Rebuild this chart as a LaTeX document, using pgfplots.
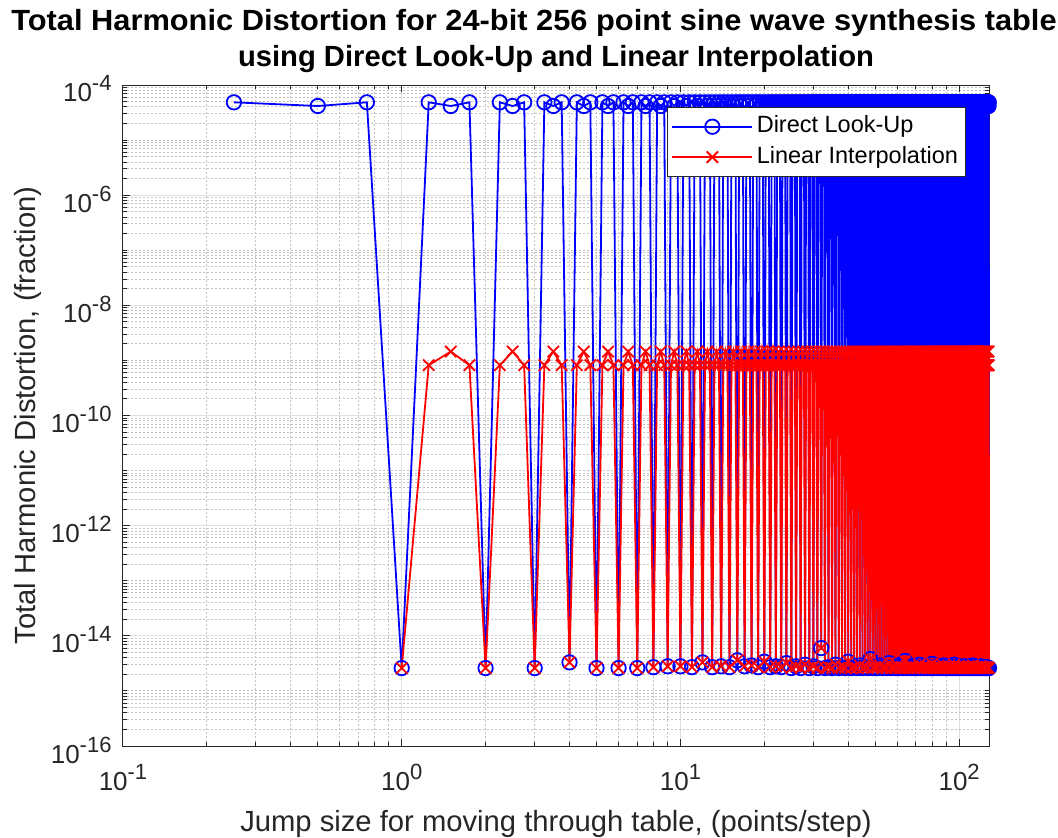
\documentclass[border=0pt]{standalone}
\usepackage{fontspec}
\setmainfont{Liberation Sans}
\usepackage{graphicx}
\usepackage{pgfplots}
\pgfplotsset{compat=1.18}
\usepackage{pgfplotstable}
\definecolor{axgray}{RGB}{38,38,38}
\definecolor{majgrid}{RGB}{223,223,223}
\definecolor{mingrid}{RGB}{195,195,195}
\newcommand{\sups}[1]{\raisebox{0.42em}{\fontsize{11}{13}\selectfont #1}}
\pgfplotstableread[row sep=\\]{
x d l\\
0.25 4.85e-5 nan\\ 0.5 4.16e-5 nan\\ 0.75 4.85e-5 nan\\
1 2.6e-15 2.6e-15\\ 1.25 4.85e-5 8.2e-10\\ 1.5 4.16e-5 1.45e-9\\ 1.75 4.85e-5 8.2e-10\\
2 2.6e-15 2.6e-15\\ 2.25 4.85e-5 8.2e-10\\ 2.5 4.16e-5 1.45e-9\\ 2.75 4.85e-5 8.2e-10\\
3 2.6e-15 2.6e-15\\ 3.25 4.85e-5 8.2e-10\\ 3.5 4.16e-5 1.45e-9\\ 3.75 4.85e-5 8.2e-10\\
4 3.3e-15 3.3e-15\\ 4.25 4.85e-5 8.2e-10\\ 4.5 4.16e-5 1.45e-9\\ 4.75 4.85e-5 8.2e-10\\
5 2.6e-15 2.6e-15\\ 5.25 4.85e-5 8.2e-10\\ 5.5 4.16e-5 1.45e-9\\ 5.75 4.85e-5 8.2e-10\\
6 2.6e-15 2.6e-15\\ 6.25 4.85e-5 8.2e-10\\ 6.5 4.16e-5 1.45e-9\\ 6.75 4.85e-5 8.2e-10\\
7 2.6e-15 2.6e-15\\ 7.25 4.85e-5 8.2e-10\\ 7.5 4.16e-5 1.45e-9\\ 7.75 4.85e-5 8.2e-10\\
8 2.7e-15 2.7e-15\\ 8.25 4.85e-5 8.2e-10\\ 8.5 4.16e-5 1.45e-9\\ 8.75 4.85e-5 8.2e-10\\
9 2.8e-15 2.8e-15\\ 9.25 4.85e-5 8.2e-10\\ 9.5 4.16e-5 1.45e-9\\ 9.75 4.85e-5 8.2e-10\\
10 2.8e-15 2.8e-15\\ 10.25 4.85e-5 8.2e-10\\ 10.5 4.16e-5 1.45e-9\\ 10.75 4.85e-5 8.2e-10\\
11 2.7e-15 2.7e-15\\ 11.25 4.85e-5 8.2e-10\\ 11.5 4.16e-5 1.45e-9\\ 11.75 4.85e-5 8.2e-10\\
12 3.3e-15 3.3e-15\\ 12.25 4.85e-5 8.2e-10\\ 12.5 4.16e-5 1.45e-9\\ 12.75 4.85e-5 8.2e-10\\
13 2.7e-15 2.7e-15\\ 13.25 4.85e-5 8.2e-10\\ 13.5 4.16e-5 1.45e-9\\ 13.75 4.85e-5 8.2e-10\\
14 2.8e-15 2.8e-15\\ 14.25 4.85e-5 8.2e-10\\ 14.5 4.16e-5 1.45e-9\\ 14.75 4.85e-5 8.2e-10\\
15 2.7e-15 2.7e-15\\ 15.25 4.85e-5 8.2e-10\\ 15.5 4.16e-5 1.45e-9\\ 15.75 4.85e-5 8.2e-10\\
16 3.6e-15 3.6e-15\\ 16.25 4.85e-5 8.2e-10\\ 16.5 4.16e-5 1.45e-9\\ 16.75 4.85e-5 8.2e-10\\
17 2.8e-15 2.8e-15\\ 17.25 4.85e-5 8.2e-10\\ 17.5 4.16e-5 1.45e-9\\ 17.75 4.85e-5 8.2e-10\\
18 2.9e-15 2.9e-15\\ 18.25 4.85e-5 8.2e-10\\ 18.5 4.16e-5 1.45e-9\\ 18.75 4.85e-5 8.2e-10\\
19 2.7e-15 2.7e-15\\ 19.25 4.85e-5 8.2e-10\\ 19.5 4.16e-5 1.45e-9\\ 19.75 4.85e-5 8.2e-10\\
20 3.4e-15 3.4e-15\\ 20.25 4.85e-5 8.2e-10\\ 20.5 4.16e-5 1.45e-9\\ 20.75 4.85e-5 8.2e-10\\
21 2.7e-15 2.7e-15\\ 21.25 4.85e-5 8.2e-10\\ 21.5 4.16e-5 1.45e-9\\ 21.75 4.85e-5 8.2e-10\\
22 2.8e-15 2.8e-15\\ 22.25 4.85e-5 8.2e-10\\ 22.5 4.16e-5 1.45e-9\\ 22.75 4.85e-5 8.2e-10\\
23 2.7e-15 2.7e-15\\ 23.25 4.85e-5 8.2e-10\\ 23.5 4.16e-5 1.45e-9\\ 23.75 4.85e-5 8.2e-10\\
24 3.2e-15 3.2e-15\\ 24.25 4.85e-5 8.2e-10\\ 24.5 4.16e-5 1.45e-9\\ 24.75 4.85e-5 8.2e-10\\
25 2.6e-15 2.6e-15\\ 25.25 4.85e-5 8.2e-10\\ 25.5 4.16e-5 1.45e-9\\ 25.75 4.85e-5 8.2e-10\\
26 2.8e-15 2.8e-15\\ 26.25 4.85e-5 8.2e-10\\ 26.5 4.16e-5 1.45e-9\\ 26.75 4.85e-5 8.2e-10\\
27 2.6e-15 2.6e-15\\ 27.25 4.85e-5 8.2e-10\\ 27.5 4.16e-5 1.45e-9\\ 27.75 4.85e-5 8.2e-10\\
28 3.0e-15 3.0e-15\\ 28.25 4.85e-5 8.2e-10\\ 28.5 4.16e-5 1.45e-9\\ 28.75 4.85e-5 8.2e-10\\
29 2.6e-15 2.6e-15\\ 29.25 4.85e-5 8.2e-10\\ 29.5 4.16e-5 1.45e-9\\ 29.75 4.85e-5 8.2e-10\\
30 2.8e-15 2.8e-15\\ 30.25 4.85e-5 8.2e-10\\ 30.5 4.16e-5 1.45e-9\\ 30.75 4.85e-5 8.2e-10\\
31 2.6e-15 2.6e-15\\ 31.25 4.85e-5 8.2e-10\\ 31.5 4.16e-5 1.45e-9\\ 31.75 4.85e-5 8.2e-10\\
32 6.0e-15 6.0e-15\\ 32.25 4.85e-5 8.2e-10\\ 32.5 4.16e-5 1.45e-9\\ 32.75 4.85e-5 8.2e-10\\
33 2.6e-15 2.6e-15\\ 33.25 4.85e-5 8.2e-10\\ 33.5 4.16e-5 1.45e-9\\ 33.75 4.85e-5 8.2e-10\\
34 2.7e-15 2.7e-15\\ 34.25 4.85e-5 8.2e-10\\ 34.5 4.16e-5 1.45e-9\\ 34.75 4.85e-5 8.2e-10\\
35 2.6e-15 2.6e-15\\ 35.25 4.85e-5 8.2e-10\\ 35.5 4.16e-5 1.45e-9\\ 35.75 4.85e-5 8.2e-10\\
36 3.0e-15 3.0e-15\\ 36.25 4.85e-5 8.2e-10\\ 36.5 4.16e-5 1.45e-9\\ 36.75 4.85e-5 8.2e-10\\
37 2.6e-15 2.6e-15\\ 37.25 4.85e-5 8.2e-10\\ 37.5 4.16e-5 1.45e-9\\ 37.75 4.85e-5 8.2e-10\\
38 2.7e-15 2.7e-15\\ 38.25 4.85e-5 8.2e-10\\ 38.5 4.16e-5 1.45e-9\\ 38.75 4.85e-5 8.2e-10\\
39 2.6e-15 2.6e-15\\ 39.25 4.85e-5 8.2e-10\\ 39.5 4.16e-5 1.45e-9\\ 39.75 4.85e-5 8.2e-10\\
40 3.4e-15 3.4e-15\\ 40.25 4.85e-5 8.2e-10\\ 40.5 4.16e-5 1.45e-9\\ 40.75 4.85e-5 8.2e-10\\
41 2.6e-15 2.6e-15\\ 41.25 4.85e-5 8.2e-10\\ 41.5 4.16e-5 1.45e-9\\ 41.75 4.85e-5 8.2e-10\\
42 2.7e-15 2.7e-15\\ 42.25 4.85e-5 8.2e-10\\ 42.5 4.16e-5 1.45e-9\\ 42.75 4.85e-5 8.2e-10\\
43 2.6e-15 2.6e-15\\ 43.25 4.85e-5 8.2e-10\\ 43.5 4.16e-5 1.45e-9\\ 43.75 4.85e-5 8.2e-10\\
44 2.9e-15 2.9e-15\\ 44.25 4.85e-5 8.2e-10\\ 44.5 4.16e-5 1.45e-9\\ 44.75 4.85e-5 8.2e-10\\
45 2.6e-15 2.6e-15\\ 45.25 4.85e-5 8.2e-10\\ 45.5 4.16e-5 1.45e-9\\ 45.75 4.85e-5 8.2e-10\\
46 2.7e-15 2.7e-15\\ 46.25 4.85e-5 8.2e-10\\ 46.5 4.16e-5 1.45e-9\\ 46.75 4.85e-5 8.2e-10\\
47 2.6e-15 2.6e-15\\ 47.25 4.85e-5 8.2e-10\\ 47.5 4.16e-5 1.45e-9\\ 47.75 4.85e-5 8.2e-10\\
48 3.8e-15 3.8e-15\\ 48.25 4.85e-5 8.2e-10\\ 48.5 4.16e-5 1.45e-9\\ 48.75 4.85e-5 8.2e-10\\
49 2.6e-15 2.6e-15\\ 49.25 4.85e-5 8.2e-10\\ 49.5 4.16e-5 1.45e-9\\ 49.75 4.85e-5 8.2e-10\\
50 2.7e-15 2.7e-15\\ 50.25 4.85e-5 8.2e-10\\ 50.5 4.16e-5 1.45e-9\\ 50.75 4.85e-5 8.2e-10\\
51 2.6e-15 2.6e-15\\ 51.25 4.85e-5 8.2e-10\\ 51.5 4.16e-5 1.45e-9\\ 51.75 4.85e-5 8.2e-10\\
52 2.9e-15 2.9e-15\\ 52.25 4.85e-5 8.2e-10\\ 52.5 4.16e-5 1.45e-9\\ 52.75 4.85e-5 8.2e-10\\
53 2.6e-15 2.6e-15\\ 53.25 4.85e-5 8.2e-10\\ 53.5 4.16e-5 1.45e-9\\ 53.75 4.85e-5 8.2e-10\\
54 2.7e-15 2.7e-15\\ 54.25 4.85e-5 8.2e-10\\ 54.5 4.16e-5 1.45e-9\\ 54.75 4.85e-5 8.2e-10\\
55 2.6e-15 2.6e-15\\ 55.25 4.85e-5 8.2e-10\\ 55.5 4.16e-5 1.45e-9\\ 55.75 4.85e-5 8.2e-10\\
56 3.2e-15 3.2e-15\\ 56.25 4.85e-5 8.2e-10\\ 56.5 4.16e-5 1.45e-9\\ 56.75 4.85e-5 8.2e-10\\
57 2.6e-15 2.6e-15\\ 57.25 4.85e-5 8.2e-10\\ 57.5 4.16e-5 1.45e-9\\ 57.75 4.85e-5 8.2e-10\\
58 2.7e-15 2.7e-15\\ 58.25 4.85e-5 8.2e-10\\ 58.5 4.16e-5 1.45e-9\\ 58.75 4.85e-5 8.2e-10\\
59 2.6e-15 2.6e-15\\ 59.25 4.85e-5 8.2e-10\\ 59.5 4.16e-5 1.45e-9\\ 59.75 4.85e-5 8.2e-10\\
60 2.9e-15 2.9e-15\\ 60.25 4.85e-5 8.2e-10\\ 60.5 4.16e-5 1.45e-9\\ 60.75 4.85e-5 8.2e-10\\
61 2.6e-15 2.6e-15\\ 61.25 4.85e-5 8.2e-10\\ 61.5 4.16e-5 1.45e-9\\ 61.75 4.85e-5 8.2e-10\\
62 2.7e-15 2.7e-15\\ 62.25 4.85e-5 8.2e-10\\ 62.5 4.16e-5 1.45e-9\\ 62.75 4.85e-5 8.2e-10\\
63 2.6e-15 2.6e-15\\ 63.25 4.85e-5 8.2e-10\\ 63.5 4.16e-5 1.45e-9\\ 63.75 4.85e-5 8.2e-10\\
64 3.5e-15 3.5e-15\\ 64.25 4.85e-5 8.2e-10\\ 64.5 4.16e-5 1.45e-9\\ 64.75 4.85e-5 8.2e-10\\
65 2.6e-15 2.6e-15\\ 65.25 4.85e-5 8.2e-10\\ 65.5 4.16e-5 1.45e-9\\ 65.75 4.85e-5 8.2e-10\\
66 2.7e-15 2.7e-15\\ 66.25 4.85e-5 8.2e-10\\ 66.5 4.16e-5 1.45e-9\\ 66.75 4.85e-5 8.2e-10\\
67 2.6e-15 2.6e-15\\ 67.25 4.85e-5 8.2e-10\\ 67.5 4.16e-5 1.45e-9\\ 67.75 4.85e-5 8.2e-10\\
68 2.8e-15 2.8e-15\\ 68.25 4.85e-5 8.2e-10\\ 68.5 4.16e-5 1.45e-9\\ 68.75 4.85e-5 8.2e-10\\
69 2.6e-15 2.6e-15\\ 69.25 4.85e-5 8.2e-10\\ 69.5 4.16e-5 1.45e-9\\ 69.75 4.85e-5 8.2e-10\\
70 2.7e-15 2.7e-15\\ 70.25 4.85e-5 8.2e-10\\ 70.5 4.16e-5 1.45e-9\\ 70.75 4.85e-5 8.2e-10\\
71 2.6e-15 2.6e-15\\ 71.25 4.85e-5 8.2e-10\\ 71.5 4.16e-5 1.45e-9\\ 71.75 4.85e-5 8.2e-10\\
72 3.0e-15 3.0e-15\\ 72.25 4.85e-5 8.2e-10\\ 72.5 4.16e-5 1.45e-9\\ 72.75 4.85e-5 8.2e-10\\
73 2.6e-15 2.6e-15\\ 73.25 4.85e-5 8.2e-10\\ 73.5 4.16e-5 1.45e-9\\ 73.75 4.85e-5 8.2e-10\\
74 2.7e-15 2.7e-15\\ 74.25 4.85e-5 8.2e-10\\ 74.5 4.16e-5 1.45e-9\\ 74.75 4.85e-5 8.2e-10\\
75 2.6e-15 2.6e-15\\ 75.25 4.85e-5 8.2e-10\\ 75.5 4.16e-5 1.45e-9\\ 75.75 4.85e-5 8.2e-10\\
76 2.8e-15 2.8e-15\\ 76.25 4.85e-5 8.2e-10\\ 76.5 4.16e-5 1.45e-9\\ 76.75 4.85e-5 8.2e-10\\
77 2.6e-15 2.6e-15\\ 77.25 4.85e-5 8.2e-10\\ 77.5 4.16e-5 1.45e-9\\ 77.75 4.85e-5 8.2e-10\\
78 2.7e-15 2.7e-15\\ 78.25 4.85e-5 8.2e-10\\ 78.5 4.16e-5 1.45e-9\\ 78.75 4.85e-5 8.2e-10\\
79 2.6e-15 2.6e-15\\ 79.25 4.85e-5 8.2e-10\\ 79.5 4.16e-5 1.45e-9\\ 79.75 4.85e-5 8.2e-10\\
80 3.1e-15 3.1e-15\\ 80.25 4.85e-5 8.2e-10\\ 80.5 4.16e-5 1.45e-9\\ 80.75 4.85e-5 8.2e-10\\
81 2.6e-15 2.6e-15\\ 81.25 4.85e-5 8.2e-10\\ 81.5 4.16e-5 1.45e-9\\ 81.75 4.85e-5 8.2e-10\\
82 2.7e-15 2.7e-15\\ 82.25 4.85e-5 8.2e-10\\ 82.5 4.16e-5 1.45e-9\\ 82.75 4.85e-5 8.2e-10\\
83 2.6e-15 2.6e-15\\ 83.25 4.85e-5 8.2e-10\\ 83.5 4.16e-5 1.45e-9\\ 83.75 4.85e-5 8.2e-10\\
84 2.8e-15 2.8e-15\\ 84.25 4.85e-5 8.2e-10\\ 84.5 4.16e-5 1.45e-9\\ 84.75 4.85e-5 8.2e-10\\
85 2.6e-15 2.6e-15\\ 85.25 4.85e-5 8.2e-10\\ 85.5 4.16e-5 1.45e-9\\ 85.75 4.85e-5 8.2e-10\\
86 2.7e-15 2.7e-15\\ 86.25 4.85e-5 8.2e-10\\ 86.5 4.16e-5 1.45e-9\\ 86.75 4.85e-5 8.2e-10\\
87 2.6e-15 2.6e-15\\ 87.25 4.85e-5 8.2e-10\\ 87.5 4.16e-5 1.45e-9\\ 87.75 4.85e-5 8.2e-10\\
88 2.9e-15 2.9e-15\\ 88.25 4.85e-5 8.2e-10\\ 88.5 4.16e-5 1.45e-9\\ 88.75 4.85e-5 8.2e-10\\
89 2.6e-15 2.6e-15\\ 89.25 4.85e-5 8.2e-10\\ 89.5 4.16e-5 1.45e-9\\ 89.75 4.85e-5 8.2e-10\\
90 2.7e-15 2.7e-15\\ 90.25 4.85e-5 8.2e-10\\ 90.5 4.16e-5 1.45e-9\\ 90.75 4.85e-5 8.2e-10\\
91 2.6e-15 2.6e-15\\ 91.25 4.85e-5 8.2e-10\\ 91.5 4.16e-5 1.45e-9\\ 91.75 4.85e-5 8.2e-10\\
92 2.8e-15 2.8e-15\\ 92.25 4.85e-5 8.2e-10\\ 92.5 4.16e-5 1.45e-9\\ 92.75 4.85e-5 8.2e-10\\
93 2.6e-15 2.6e-15\\ 93.25 4.85e-5 8.2e-10\\ 93.5 4.16e-5 1.45e-9\\ 93.75 4.85e-5 8.2e-10\\
94 2.7e-15 2.7e-15\\ 94.25 4.85e-5 8.2e-10\\ 94.5 4.16e-5 1.45e-9\\ 94.75 4.85e-5 8.2e-10\\
95 2.6e-15 2.6e-15\\ 95.25 4.85e-5 8.2e-10\\ 95.5 4.16e-5 1.45e-9\\ 95.75 4.85e-5 8.2e-10\\
96 3.0e-15 3.0e-15\\ 96.25 4.85e-5 8.2e-10\\ 96.5 4.16e-5 1.45e-9\\ 96.75 4.85e-5 8.2e-10\\
97 2.6e-15 2.6e-15\\ 97.25 4.85e-5 8.2e-10\\ 97.5 4.16e-5 1.45e-9\\ 97.75 4.85e-5 8.2e-10\\
98 2.7e-15 2.7e-15\\ 98.25 4.85e-5 8.2e-10\\ 98.5 4.16e-5 1.45e-9\\ 98.75 4.85e-5 8.2e-10\\
99 2.6e-15 2.6e-15\\ 99.25 4.85e-5 8.2e-10\\ 99.5 4.16e-5 1.45e-9\\ 99.75 4.85e-5 8.2e-10\\
100 2.8e-15 2.8e-15\\ 100.25 4.85e-5 8.2e-10\\ 100.5 4.16e-5 1.45e-9\\ 100.75 4.85e-5 8.2e-10\\
101 2.6e-15 2.6e-15\\ 101.25 4.85e-5 8.2e-10\\ 101.5 4.16e-5 1.45e-9\\ 101.75 4.85e-5 8.2e-10\\
102 2.7e-15 2.7e-15\\ 102.25 4.85e-5 8.2e-10\\ 102.5 4.16e-5 1.45e-9\\ 102.75 4.85e-5 8.2e-10\\
103 2.6e-15 2.6e-15\\ 103.25 4.85e-5 8.2e-10\\ 103.5 4.16e-5 1.45e-9\\ 103.75 4.85e-5 8.2e-10\\
104 2.8e-15 2.8e-15\\ 104.25 4.85e-5 8.2e-10\\ 104.5 4.16e-5 1.45e-9\\ 104.75 4.85e-5 8.2e-10\\
105 2.6e-15 2.6e-15\\ 105.25 4.85e-5 8.2e-10\\ 105.5 4.16e-5 1.45e-9\\ 105.75 4.85e-5 8.2e-10\\
106 2.7e-15 2.7e-15\\ 106.25 4.85e-5 8.2e-10\\ 106.5 4.16e-5 1.45e-9\\ 106.75 4.85e-5 8.2e-10\\
107 2.6e-15 2.6e-15\\ 107.25 4.85e-5 8.2e-10\\ 107.5 4.16e-5 1.45e-9\\ 107.75 4.85e-5 8.2e-10\\
108 2.8e-15 2.8e-15\\ 108.25 4.85e-5 8.2e-10\\ 108.5 4.16e-5 1.45e-9\\ 108.75 4.85e-5 8.2e-10\\
109 2.6e-15 2.6e-15\\ 109.25 4.85e-5 8.2e-10\\ 109.5 4.16e-5 1.45e-9\\ 109.75 4.85e-5 8.2e-10\\
110 2.7e-15 2.7e-15\\ 110.25 4.85e-5 8.2e-10\\ 110.5 4.16e-5 1.45e-9\\ 110.75 4.85e-5 8.2e-10\\
111 2.6e-15 2.6e-15\\ 111.25 4.85e-5 8.2e-10\\ 111.5 4.16e-5 1.45e-9\\ 111.75 4.85e-5 8.2e-10\\
112 2.9e-15 2.9e-15\\ 112.25 4.85e-5 8.2e-10\\ 112.5 4.16e-5 1.45e-9\\ 112.75 4.85e-5 8.2e-10\\
113 2.6e-15 2.6e-15\\ 113.25 4.85e-5 8.2e-10\\ 113.5 4.16e-5 1.45e-9\\ 113.75 4.85e-5 8.2e-10\\
114 2.7e-15 2.7e-15\\ 114.25 4.85e-5 8.2e-10\\ 114.5 4.16e-5 1.45e-9\\ 114.75 4.85e-5 8.2e-10\\
115 2.6e-15 2.6e-15\\ 115.25 4.85e-5 8.2e-10\\ 115.5 4.16e-5 1.45e-9\\ 115.75 4.85e-5 8.2e-10\\
116 2.7e-15 2.7e-15\\ 116.25 4.85e-5 8.2e-10\\ 116.5 4.16e-5 1.45e-9\\ 116.75 4.85e-5 8.2e-10\\
117 2.6e-15 2.6e-15\\ 117.25 4.85e-5 8.2e-10\\ 117.5 4.16e-5 1.45e-9\\ 117.75 4.85e-5 8.2e-10\\
118 2.7e-15 2.7e-15\\ 118.25 4.85e-5 8.2e-10\\ 118.5 4.16e-5 1.45e-9\\ 118.75 4.85e-5 8.2e-10\\
119 2.6e-15 2.6e-15\\ 119.25 4.85e-5 8.2e-10\\ 119.5 4.16e-5 1.45e-9\\ 119.75 4.85e-5 8.2e-10\\
120 2.8e-15 2.8e-15\\ 120.25 4.85e-5 8.2e-10\\ 120.5 4.16e-5 1.45e-9\\ 120.75 4.85e-5 8.2e-10\\
121 2.6e-15 2.6e-15\\ 121.25 4.85e-5 8.2e-10\\ 121.5 4.16e-5 1.45e-9\\ 121.75 4.85e-5 8.2e-10\\
122 2.7e-15 2.7e-15\\ 122.25 4.85e-5 8.2e-10\\ 122.5 4.16e-5 1.45e-9\\ 122.75 4.85e-5 8.2e-10\\
123 2.6e-15 2.6e-15\\ 123.25 4.85e-5 8.2e-10\\ 123.5 4.16e-5 1.45e-9\\ 123.75 4.85e-5 8.2e-10\\
124 2.7e-15 2.7e-15\\ 124.25 4.85e-5 8.2e-10\\ 124.5 4.16e-5 1.45e-9\\ 124.75 4.85e-5 8.2e-10\\
125 2.6e-15 2.6e-15\\ 125.25 4.85e-5 8.2e-10\\ 125.5 4.16e-5 1.45e-9\\ 125.75 4.85e-5 8.2e-10\\
126 2.7e-15 2.7e-15\\ 126.25 4.85e-5 8.2e-10\\ 126.5 4.16e-5 1.45e-9\\ 126.75 4.85e-5 8.2e-10\\
127 2.6e-15 2.6e-15\\ 127.25 4.85e-5 8.2e-10\\ 127.5 4.16e-5 1.45e-9\\ 127.75 4.85e-5 8.2e-10\\
128 2.6e-15 2.6e-15\\
}\thd
\begin{document}
\begin{tikzpicture}
\path[use as bounding box] (-61.5pt,-45.5pt) rectangle (467.5pt,373pt);
\begin{axis}[
  at={(0pt,0pt)}, anchor=south west,
  scale only axis, width=433pt, height=330.5pt,
  xmode=log, ymode=log,
  xmin=0.1, xmax=128, ymin=1e-16, ymax=1e-4,
  xtick={0.1,1,10,100},
  xticklabels={10\sups{-1},10\sups{0},10\sups{1},10\sups{2}},
  minor xtick={0.2,0.3,0.4,0.5,0.6,0.7,0.8,0.9,2,3,4,5,6,7,8,9,20,30,40,50,60,70,80,90},
  ytick={1e-16,1e-14,1e-12,1e-10,1e-8,1e-6,1e-4},
  yticklabels={10\sups{-16},10\sups{-14},10\sups{-12},10\sups{-10},10\sups{-8},10\sups{-6},10\sups{-4}},
  minor ytick={2e-16,3e-16,4e-16,5e-16,6e-16,7e-16,8e-16,9e-16,1e-15,
    2e-15,3e-15,4e-15,5e-15,6e-15,7e-15,8e-15,9e-15,
    2e-14,3e-14,4e-14,5e-14,6e-14,7e-14,8e-14,9e-14,1e-13,
    2e-13,3e-13,4e-13,5e-13,6e-13,7e-13,8e-13,9e-13,
    2e-12,3e-12,4e-12,5e-12,6e-12,7e-12,8e-12,9e-12,1e-11,
    2e-11,3e-11,4e-11,5e-11,6e-11,7e-11,8e-11,9e-11,
    2e-10,3e-10,4e-10,5e-10,6e-10,7e-10,8e-10,9e-10,1e-9,
    2e-9,3e-9,4e-9,5e-9,6e-9,7e-9,8e-9,9e-9,
    2e-8,3e-8,4e-8,5e-8,6e-8,7e-8,8e-8,9e-8,1e-7,
    2e-7,3e-7,4e-7,5e-7,6e-7,7e-7,8e-7,9e-7,
    2e-6,3e-6,4e-6,5e-6,6e-6,7e-6,8e-6,9e-6,1e-5,
    2e-5,3e-5,4e-5,5e-5,6e-5,7e-5,8e-5,9e-5},
  grid=both,
  major grid style={majgrid, line width=0.5pt},
  minor grid style={mingrid, line width=0.5pt, dash pattern=on 1pt off 1pt},
  axis line style={axgray, line width=0.5pt},
  tick style={axgray, line width=0.5pt},
  major tick length=3.5pt, minor tick length=2pt,
  tick align=inside,
  ticklabel style={font=\fontsize{13}{15}\selectfont, text=axgray},
  xticklabel style={anchor=base, yshift=-22pt},
  yticklabel style={xshift=-2.2pt, yshift=-2pt},
  xlabel={Jump size for moving through table, (points/step)},
  ylabel={Total Harmonic Distortion, (fraction)},
  label style={font=\fontsize{14.6}{17}\selectfont, text=axgray},
  xlabel style={at={(axis description cs:0.5,-0.1286)}, anchor=base},
  ylabel style={at={(axis description cs:-0.1016,0.5)}, anchor=base},
  title={\scalebox{1.055}[1]{Total Harmonic Distortion for 24-bit 256 point sine wave synthesis table}\hspace*{22pt}\\using Direct Look-Up and Linear Interpolation},
  title style={font=\fontsize{14.6}{18}\selectfont\bfseries, align=center, at={(axis description cs:0.5,1)}, anchor=south, yshift=0pt, inner sep=0pt},
  legend style={at={(0.9734,0.9667)}, anchor=north east, draw=axgray, line width=0.5pt, fill=white,
    font=\fontsize{11.75}{14}\selectfont, inner xsep=2pt, inner ysep=2pt, row sep=0pt,
    nodes={inner ysep=2pt, inner xsep=1.75pt, text height=8.6pt, text depth=2.6pt}},
  legend cell align=left,
  legend image code/.code={\draw[mark repeat=2,mark phase=2,#1] plot coordinates {(0pt,0pt) (20pt,0pt) (40pt,0pt)};},
  clip=false,
]
\addplot[blue, line width=0.9pt, mark=o, mark size=3.6pt, mark options={line width=0.9pt}] table[x=x, y=d] {\thd};
\addlegendentry{Direct Look-Up}
\addplot[red, line width=0.9pt, mark=x, mark size=4pt, mark options={line width=0.9pt}] table[x=x, y=l] {\thd};
\addlegendentry{Linear Interpolation}
\end{axis}
\end{tikzpicture}
\end{document}
